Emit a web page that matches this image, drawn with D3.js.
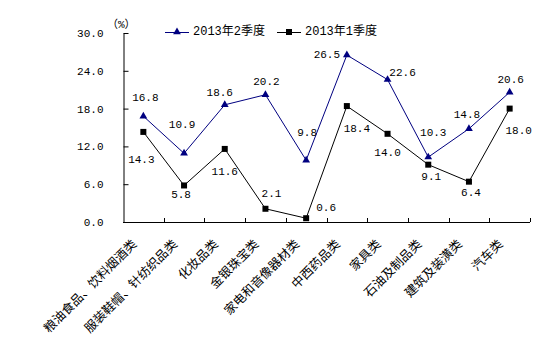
<!DOCTYPE html>
<html lang="zh">
<head>
<meta charset="utf-8">
<script src="https://d3js.org/d3.v7.min.js"></script>
<style>
  body { margin: 0; background: #fff; }
  text { font-family: "Liberation Mono", "Noto Sans CJK SC", monospace; fill: #000; }
  .cjk { font-family: "Noto Sans CJK SC", sans-serif; }
</style>
</head>
<body>
<script>
var categories = ["粮油食品、饮料烟酒类", "服装鞋帽、针纺织品类", "化妆品类", "金银珠宝类", "家电和音像器材类",
                  "中西药品类", "家具类", "石油及制品类", "建筑及装潢类", "汽车类"];
var q2Values = [16.8, 10.9, 18.6, 20.2, 9.8, 26.5, 22.6, 10.3, 14.8, 20.6];
var q1Values = [14.3, 5.8, 11.6, 2.1, 0.6, 18.4, 14.0, 9.1, 6.4, 18.0];
var yTicks = [0, 6, 12, 18, 24, 30];
var seriesNames = ["2013年2季度", "2013年1季度"];

// label offsets (px) from each point, placed by hand like the original
var q2Offsets = [[2,-18],[-2,-28],[-5,-12],[1,-13],[1,-27],[-20,0],[15,-7],[5,-24],[-2,-14],[1,-12]];
var q1Offsets = [[-2,28],[-3,10],[0,23],[6,-15],[20,-10],[10,23],[0,19],[3,12],[2,11],[9,22]];

var width = 555, height = 353;
var plotL = 123, plotR = 530, plotT = 33, plotB = 222;

var svg = d3.select("body").append("svg")
    .attr("width", width)
    .attr("height", height);

var x = d3.scaleBand().domain(categories).range([plotL, plotR]);
var y = d3.scaleLinear().domain([0, 30]).range([plotB, plotT]);

// y axis
svg.append("g")
    .attr("transform", "translate(" + (plotL + 0.5) + ",0)")
    .call(d3.axisLeft(y).tickValues(yTicks).tickFormat(d3.format(".1f"))
        .tickSize(-5).tickSizeOuter(0).tickPadding(20))
    .call(function(g) {
        g.selectAll("text").style("font-size", "11px").style("font-family", null);
        g.selectAll("line, path").attr("stroke", "#000");
    });

// x axis (ticks on category boundaries)
var xg = svg.append("g");
xg.append("line")
    .attr("x1", plotL).attr("x2", plotR)
    .attr("y1", plotB + 0.5).attr("y2", plotB + 0.5)
    .attr("stroke", "#000");
xg.selectAll(".bt")
    .data(categories.slice(1).map(function(c) { return x(c); }).concat([plotR]))
    .enter().append("line")
    .attr("x1", function(d) { return Math.round(d) + 0.5; })
    .attr("x2", function(d) { return Math.round(d) + 0.5; })
    .attr("y1", plotB).attr("y2", plotB - 4)
    .attr("stroke", "#000");
xg.selectAll(".cat")
    .data(categories)
    .enter().append("text")
    .attr("class", "cjk")
    .attr("text-anchor", "end")
    .style("font-size", "12.5px")
    .attr("transform", function(d) {
        return "translate(" + (x(d) + x.bandwidth() / 2 - 6) + "," + (plotB + 23) + ") rotate(-45)";
    })
    .text(function(d) { return d; });

// unit
svg.append("text")
    .attr("x", 107).attr("y", 28)
    .style("font-size", "11px")
    .text("（%）");

var cx = function(d, i) { return x(categories[i]) + x.bandwidth() / 2; };
var line = d3.line()
    .x(function(d, i) { return cx(d, i); })
    .y(function(d) { return y(d); });

// series 1 quarter (black squares)
svg.append("path").datum(q1Values)
    .attr("d", line).attr("fill", "none").attr("stroke", "#000").attr("stroke-width", 1);
svg.selectAll(".sq").data(q1Values).enter().append("rect")
    .attr("x", function(d, i) { return cx(d, i) - 3; })
    .attr("y", function(d) { return y(d) - 3; })
    .attr("width", 6).attr("height", 6)
    .attr("fill", "#000");

// series 2 quarter (navy triangles)
var tri = d3.symbol().type(d3.symbolTriangle).size(26);
svg.append("path").datum(q2Values)
    .attr("d", line).attr("fill", "none").attr("stroke", "#000080").attr("stroke-width", 1);
svg.selectAll(".tri").data(q2Values).enter().append("path")
    .attr("d", tri)
    .attr("transform", function(d, i) { return "translate(" + cx(d, i) + "," + y(d) + ")"; })
    .attr("fill", "#000080");

// data labels
function labels(vals, offs) {
    svg.append("g").selectAll("text").data(vals).enter().append("text")
        .attr("x", function(d, i) { return cx(d, i) + offs[i][0]; })
        .attr("y", function(d, i) { return y(d) + offs[i][1]; })
        .attr("text-anchor", "middle")
        .attr("dominant-baseline", "central")
        .style("font-size", "11px")
        .text(function(d) { return d3.format(".1f")(d); });
}
labels(q2Values, q2Offsets);
labels(q1Values, q1Offsets);

// legend
var legend = [
    {name: seriesNames[0], color: "#000080", sym: "tri", x0: 165},
    {name: seriesNames[1], color: "#000", sym: "sq", x0: 277}
];
var lg = svg.append("g").selectAll("g").data(legend).enter().append("g")
    .attr("transform", function(d) { return "translate(" + d.x0 + ",32)"; });
lg.append("line").attr("x1", 0).attr("x2", 24).attr("y1", 0.5).attr("y2", 0.5)
    .attr("stroke", function(d) { return d.color; });
lg.filter(function(d) { return d.sym === "tri"; }).append("path")
    .attr("d", tri).attr("transform", "translate(12,0)").attr("fill", "#000080");
lg.filter(function(d) { return d.sym === "sq"; }).append("rect")
    .attr("x", 9).attr("y", -3).attr("width", 6).attr("height", 6).attr("fill", "#000");
lg.append("text")
    .attr("x", 28).attr("y", 0)
    .attr("dominant-baseline", "central")
    .style("font-size", "12px")
    .text(function(d) { return d.name; });
</script>
</body>
</html>
